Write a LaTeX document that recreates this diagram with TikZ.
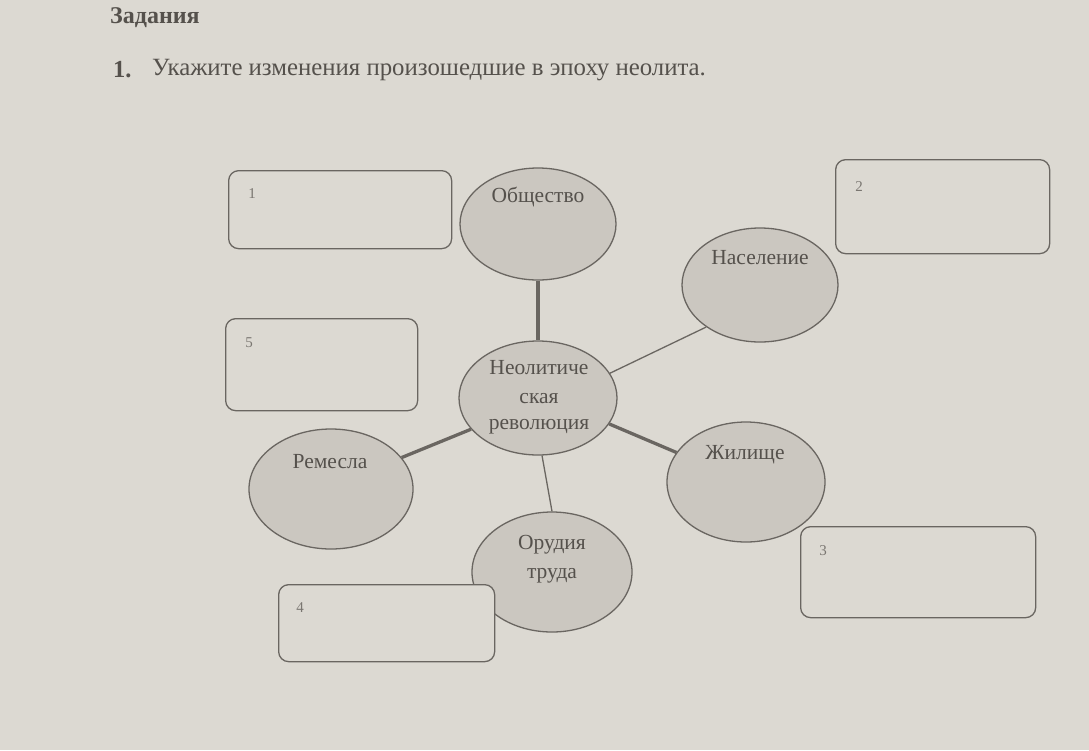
\documentclass[tikz,border=0pt]{standalone}
\usepackage{fontspec}
\setmainfont{Liberation Serif}
\usetikzlibrary{shapes.geometric}
\definecolor{paper}{HTML}{DCD9D2}
\definecolor{ellfill}{HTML}{CBC7C0}
\definecolor{ink}{HTML}{6A6661}
\definecolor{txt}{HTML}{55514C}
\definecolor{numc}{HTML}{7A7671}
\tikzset{
  bubble/.style={ellipse, draw=ink, line width=1.3pt, fill=ellfill, inner sep=0pt},
  ansbox/.style={draw=ink, line width=1.3pt, fill=paper, rounded corners=10pt, anchor=north west, inner sep=0pt},
  btext/.style={text=txt, font=\fontsize{21.5}{24}\selectfont, inner sep=0pt},
  numtext/.style={text=numc, font=\fontsize{15}{17}\selectfont, inner sep=0pt},
  thinlink/.style={draw=ink, line width=1.3pt},
  thicklink/.style={draw=ink, line width=3.3pt}
}
\begin{document}
\begin{tikzpicture}[x=1pt,y=-1pt]
\fill[paper] (0,0) rectangle (1089,750);
\useasboundingbox (0,0) rectangle (1089,750);
% heading
\node[text=txt, font=\fontsize{24}{28}\selectfont\bfseries, anchor=west, inner sep=0pt] (head) at (110,18) {Задания};
\node[text=txt, font=\fontsize{24.5}{28}\selectfont\bfseries, anchor=west, inner sep=0pt] (num1) at (113,70) {1.};
\node[text=txt, font=\fontsize{24.8}{28}\selectfont, anchor=west, inner sep=0pt] (task) at (152,70) {Укажите изменения произошедшие в эпоху неолита.};
% ellipses
\node[bubble, minimum width=156pt, minimum height=112pt] (obs) at (538,224) {};
\node[bubble, minimum width=156pt, minimum height=114pt] (nas) at (760,285) {};
\node[bubble, minimum width=158pt, minimum height=114pt] (rev) at (538,398) {};
\node[bubble, minimum width=164pt, minimum height=120pt] (rem) at (331,489) {};
\node[bubble, minimum width=158pt, minimum height=120pt] (zhi) at (746,482) {};
\node[bubble, minimum width=160pt, minimum height=120pt] (oru) at (552,572) {};
% ellipse texts
\node[btext] (tobs) at (538,197) {Общество};
\node[btext] (tnas) at (760,258) {Население};
\node[btext] (trev1) at (539,368) {Неолитиче};
\node[btext] (trev2) at (539,399) {ская};
\node[btext] (trev3) at (539,427) {революция};
\node[btext] (trem) at (330,462) {Ремесла};
\node[btext] (tzhi) at (745,455) {Жилище};
\node[btext] (toru1) at (552,545) {Орудия};
\node[btext] (toru2) at (552,576) {труда};
% connectors
\draw[thicklink] (obs.south) -- (rev.north);
\draw[thinlink] (nas.218) -- (rev.19);
\draw[thicklink] (rev.205) -- (rem.24);
\draw[thicklink] (rev.-20) -- (zhi.157);
\draw[thinlink] (rev.-86) -- (oru.90);
% answer boxes
\node[ansbox, minimum width=223pt, minimum height=78pt] (b1) at (228,170) {};
\node[ansbox, minimum width=214pt, minimum height=94pt] (b2) at (835,159) {};
\node[ansbox, minimum width=235pt, minimum height=91pt] (b3) at (800,526) {};
\node[ansbox, minimum width=216pt, minimum height=77pt] (b4) at (278,584) {};
\node[ansbox, minimum width=192pt, minimum height=92pt] (b5) at (225,318) {};
\node[numtext] (n1) at (252,194) {1};
\node[numtext] (n2) at (859,187) {2};
\node[numtext] (n3) at (823,551) {3};
\node[numtext] (n4) at (300,608) {4};
\node[numtext] (n5) at (249,343) {5};
\end{tikzpicture}
\end{document}
